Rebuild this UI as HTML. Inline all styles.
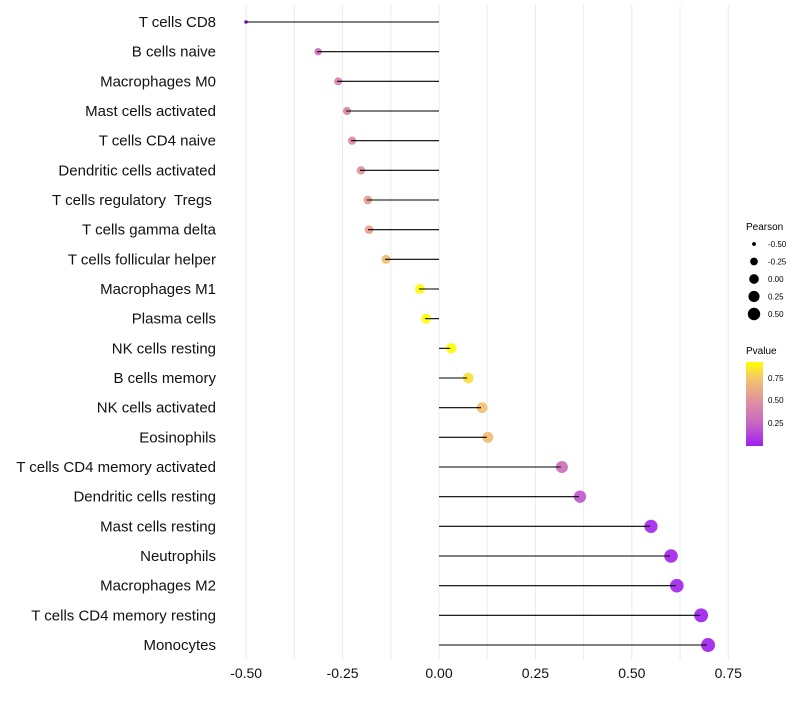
<!DOCTYPE html>
<html><head><meta charset="utf-8"><style>
body{margin:0;background:#fff;font-family:"Liberation Sans",sans-serif;}
</style></head><body>
<svg id="chart" width="800" height="700" xmlns="http://www.w3.org/2000/svg" font-family="Liberation Sans, sans-serif">
<defs><linearGradient id="pg" x1="0" y1="1" x2="0" y2="0">
<stop offset="0" stop-color="#a020f0"/><stop offset="0.27" stop-color="#c866c4"/>
<stop offset="0.54" stop-color="#e2929e"/><stop offset="0.81" stop-color="#f3c66a"/>
<stop offset="1" stop-color="#ffff00"/></linearGradient></defs>
<g id="grid"></g><g id="marks"></g><g id="labels"></g><g id="xticks"></g>
<g>
<text x="746" y="230" font-size="10">Pearson</text>
<g id="sizeleg"></g>
</g>
<g>
<text x="746" y="354" font-size="10">Pvalue</text>
<rect x="746" y="362" width="17" height="84" fill="url(#pg)"/>
<text x="768" y="381" font-size="8">0.75</text>
<text x="768" y="403" font-size="8">0.50</text>
<text x="768" y="426" font-size="8">0.25</text>
</g>
</svg>
<script>
const categories=["T cells CD8","B cells naive","Macrophages M0","Mast cells activated","T cells CD4 naive","Dendritic cells activated","T cells regulatory  Tregs ","T cells gamma delta","T cells follicular helper","Macrophages M1","Plasma cells","NK cells resting","B cells memory","NK cells activated","Eosinophils","T cells CD4 memory activated","Dendritic cells resting","Mast cells resting","Neutrophils","Macrophages M2","T cells CD4 memory resting","Monocytes"];
const pearson=[-0.503,-0.316,-0.264,-0.241,-0.228,-0.205,-0.187,-0.184,-0.140,-0.052,-0.036,0.029,0.073,0.109,0.124,0.316,0.363,0.547,0.599,0.614,0.677,0.695];
const pvalue=[0.02,0.30,0.40,0.42,0.45,0.50,0.55,0.57,0.70,0.90,0.92,0.92,0.82,0.72,0.70,0.30,0.20,0.03,0.02,0.02,0.01,0.01];
const xticks=[-0.5,-0.25,0,0.25,0.5,0.75];
const xTickLabels=["-0.50","-0.25","0.00","0.25","0.50","0.75"];
const sizeLegend=[-0.5,-0.25,0,0.25,0.5];
const sizeLegendLabels=["-0.50","-0.25","0.00","0.25","0.50"];
const NS="http://www.w3.org/2000/svg";
const x=v=>439+v*385.7;
const y=i=>22+i*29.667;
const r=v=>1.5+5*Math.sqrt(Math.max(0,v+0.51));
const stops=[[0,[160,32,240]],[0.25,[200,102,196]],[0.5,[226,146,158]],[0.75,[243,198,106]],[0.92,[255,255,0]]];
function col(p){for(let k=1;k<stops.length;k++){if(p<=stops[k][0]||k==stops.length-1){const a=stops[k-1],b=stops[k];let t=(p-a[0])/(b[0]-a[0]);t=Math.max(0,Math.min(1,t));return "rgb("+a[1].map((c,j)=>Math.round(c+(b[1][j]-c)*t)).join(",")+")";}}}
function mk(tag,at,parent){const e=document.createElementNS(NS,tag);for(const k in at)e.setAttribute(k,at[k]);document.getElementById(parent).appendChild(e);return e;}
for(let v=-0.5;v<=0.751;v+=0.125){const g=mk("line",{x1:x(v),x2:x(v),y1:5,y2:660,stroke:"#ebebeb","stroke-width":1},"grid");

}
categories.forEach((c,i)=>{
 const p=mk("circle",{cx:x(pearson[i])+1,cy:y(i),r:r(pearson[i]),fill:col(pvalue[i]),"fill-opacity":0.92},"marks");
 
 
 const l=mk("line",{x1:x(0),x2:x(pearson[i]),y1:y(i),y2:y(i),stroke:"#000","stroke-width":1.1},"marks");
 
 
 const t=mk("text",{x:216,y:y(i)+5,"text-anchor":"end","font-size":15,fill:"#111","xml:space":"preserve",style:"white-space:pre"},"labels");
 t.textContent=c;
 
 
});
xticks.forEach((v,i)=>{const t=mk("text",{x:x(v),y:678,"text-anchor":"middle","font-size":14,fill:"#111"},"xticks");
t.textContent=xTickLabels[i];

});
sizeLegend.forEach((v,i)=>{const yy=244+i*17.5;
const c=mk("circle",{cx:754,cy:yy,r:r(v)*0.95,fill:"#000"},"sizeleg");


const t=mk("text",{x:768,y:yy+3,"font-size":8},"sizeleg");t.textContent=sizeLegendLabels[i];

});
</script>
</body></html>
